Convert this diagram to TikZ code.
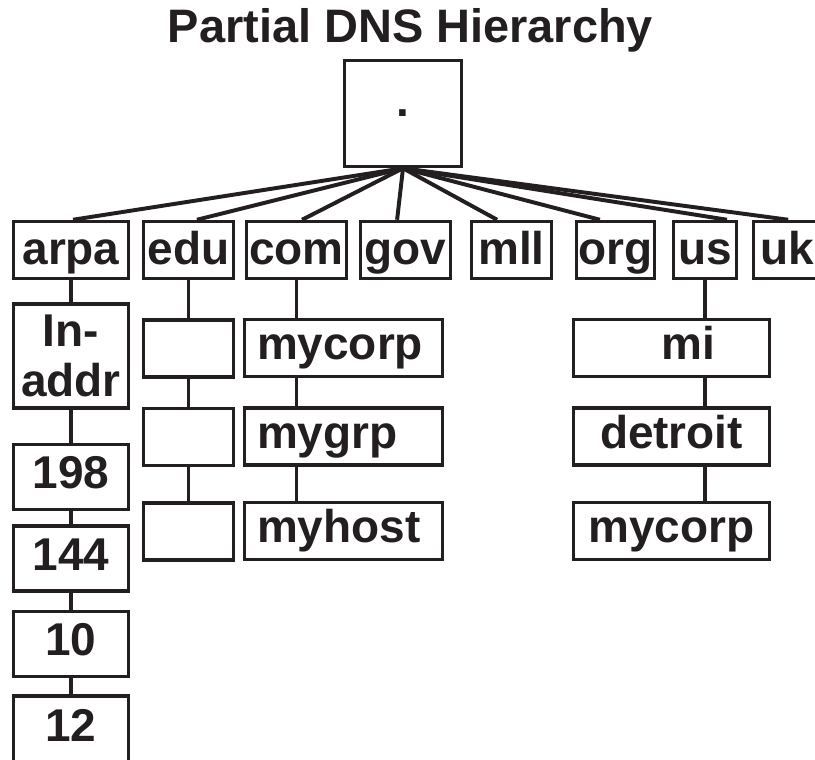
\documentclass[tikz,border=0pt]{standalone}
\definecolor{dns_ink}{RGB}{35, 31, 32}
\usepackage{fontspec}
\setmainfont{Liberation Sans}
\usepackage{tikz}
\usetikzlibrary{positioning}
\begin{document}
\begin{tikzpicture}[color=dns_ink,
      font=\fontsize{32.7}{35.6}\selectfont\bfseries,
      blk/.style={draw, line width=2.5pt, inner sep=0pt},
      txt/.style={text height=22.9pt, text depth=6.5pt},
      tld/.style={blk, txt, minimum height=1.425cm, text depth=1.6pt},
      sub/.style={blk, txt, minimum height=1.425cm},
      num/.style={blk, txt, minimum width=2.875cm, minimum height=1.625cm},
      lft/.style={sub, text width=4.325cm, inner xsep=0.3125cm, align=left},
      lnk/.style={line width=2.4pt},
      fan/.style={line width=2.8pt}]
      \path[use as bounding box, clip] (0,0) rectangle (20.375,-19);
      % Title
      \node[anchor=base, font=\fontsize{33.4}{36}\selectfont\bfseries] (title)
        at (10.26,-1.075) {Partial DNS Hierarchy};
      % Root
      \node[blk, minimum width=2.925cm, minimum height=2.65cm,
            text height=4.6pt, text depth=0pt] (root)
        at (10.075,-2.8375) {.};
      % Top-level domains
      \node[tld, minimum width=2.875cm] (arpa) at (1.775,-6.25) {arpa};
      \node[tld, minimum width=2.25cm] (edu) at (4.7125,-6.25) {edu};
      \node[tld, minimum width=2.5cm] (com) at (7.4125,-6.25) {com};
      \node[tld, minimum width=2.25cm] (gov) at (10.1375,-6.25) {gov};
      \node[tld, minimum width=2.0cm] (mll) at (12.7875,-6.25) {mll};
      \node[tld, minimum width=1.95cm] (org) at (15.3875,-6.25) {org};
      \node[tld, minimum width=1.575cm] (us) at (17.625,-6.25) {us};
      \node[tld, minimum width=1.675cm] (uk) at (19.675,-6.25) {uk};
      \foreach \n/\dx in {arpa/0.05, edu/0.21, com/0.14, gov/-0.21,
                          mll/-0.36, org/-0.39, us/0.55, uk/0.03}
        \draw[fan] (root.south) -- ([xshift=\dx cm]\n.north);
      % arpa
      \node[blk, minimum width=2.875cm, minimum height=2.6cm, align=center]
        (inaddr) [below=0.55cm of arpa] {In-\\addr};
      \node[num] (n198) [below=0.825cm of inaddr] {198};
      \node[num] (n144) [below=0.325cm of n198] {144};
      \node[num] (n10) [below=0.425cm of n144] {10};
      \node[num, minimum height=1.7cm] (n12) [below=0.4cm of n10] {12};
      \draw[lnk] (arpa) -- (inaddr) -- (n198) -- (n144) -- (n10) -- (n12);
      % edu
      \node[sub, minimum width=2.25cm] (e1) [below=0.95cm of edu] {};
      \node[sub, minimum width=2.25cm] (e2) [below=0.7cm of e1] {};
      \node[sub, minimum width=2.25cm] (e3) [below=0.85cm of e2] {};
      \draw[lnk] (edu) -- (e1) -- (e2) -- (e3);
      % com
      \node[lft] (mycorp) at (8.5875,-8.7) {mycorp};
      \node[lft] (mygrp) [below=0.7cm of mycorp] {mygrp};
      \node[lft] (myhost) [below=0.85cm of mygrp] {myhost};
      \draw[lnk] (com) -- (com |- mycorp.north)
        (com |- mycorp.south) -- (com |- mygrp.north)
        (com |- mygrp.south) -- (com |- myhost.north);
      % us
      \node[sub, minimum width=4.9cm] (mi) at (16.7875,-8.7) {\hspace{0.85cm}mi};
      \node[sub, minimum width=4.9cm] (detroit) [below=0.7cm of mi] {detroit};
      \node[sub, minimum width=4.9cm] (mycorpus) [below=0.85cm of detroit] {mycorp};
      \draw[lnk] (us) -- (us |- mi.north)
        (us |- mi.south) -- (us |- detroit.north)
        (us |- detroit.south) -- (us |- mycorpus.north);
    \end{tikzpicture}
\end{document}
